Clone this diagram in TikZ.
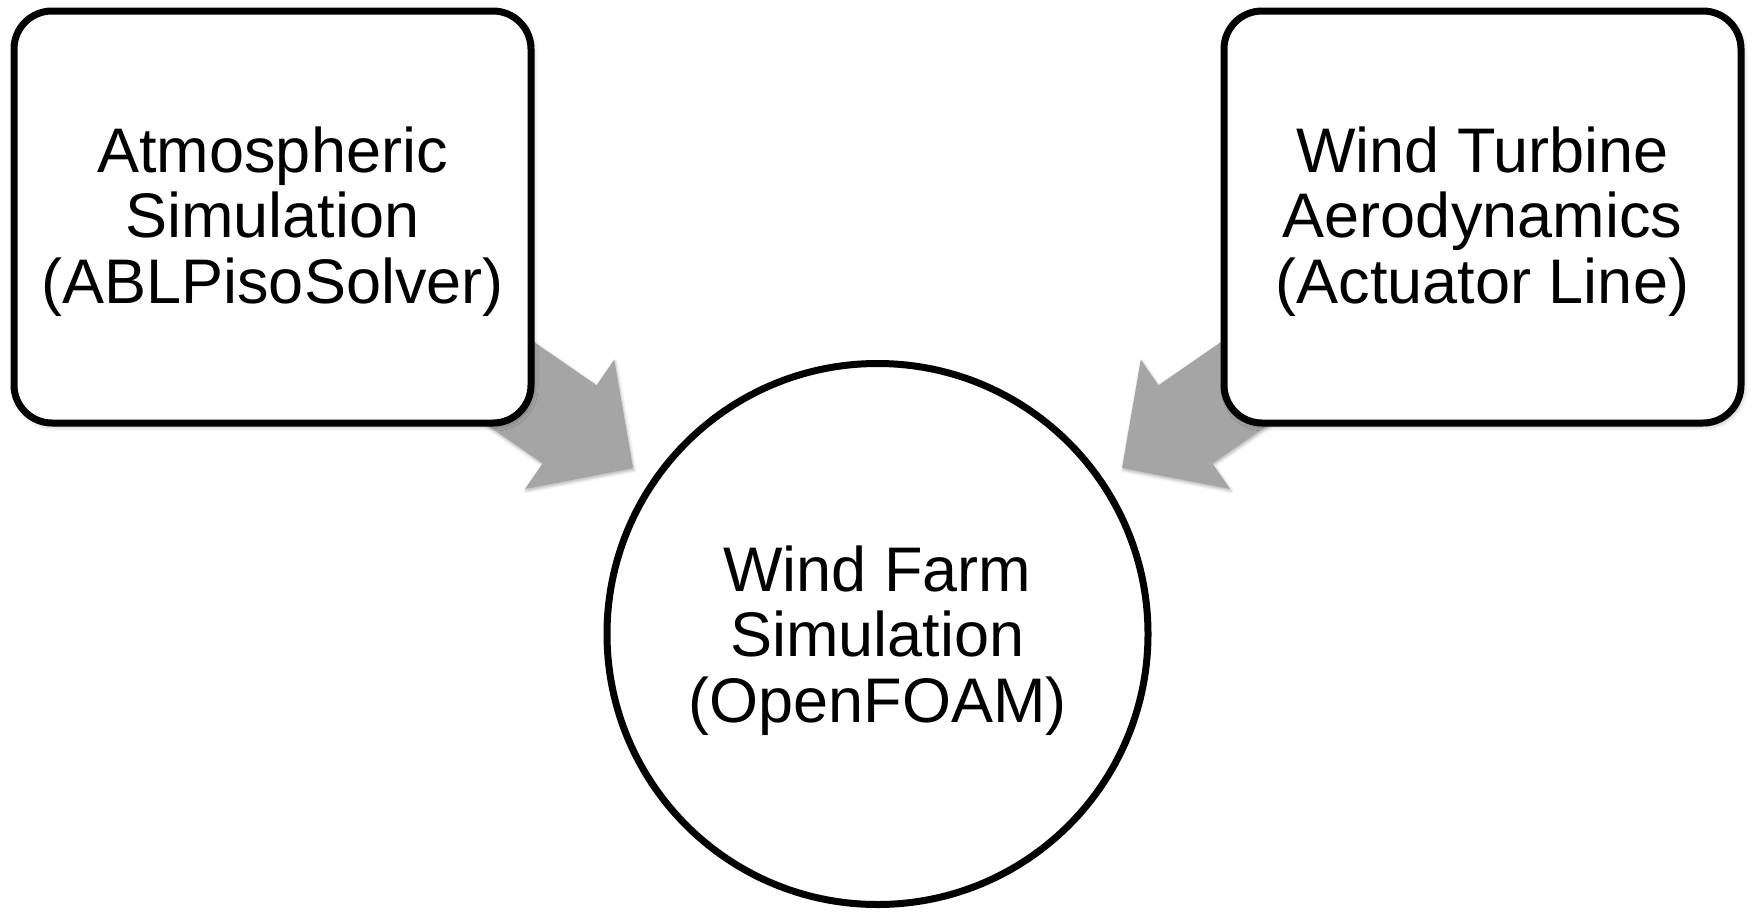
\documentclass[tikz,border=0pt]{standalone}
\usepackage{fontspec}
\setmainfont{Liberation Sans}
\usetikzlibrary{shadows.blur}
\definecolor{arrowgray}{HTML}{A5A5A5}
\tikzset{
  box/.style={draw=black, line width=7pt, fill=white, rounded corners=38pt,
    minimum width=517pt, minimum height=412pt, align=center, inner sep=0pt,
    font=\fontsize{63}{65.5}\selectfont, text depth=4pt,
    blur shadow={shadow xshift=2pt, shadow yshift=-3pt, shadow blur radius=5pt, shadow opacity=35}},
  hub/.style={draw=black, line width=7pt, fill=white, circle, minimum size=541pt,
    align=center, inner sep=0pt, font=\fontsize{63}{65.5}\selectfont, text depth=-4pt},
  blockarrow/.style={fill=arrowgray, draw=none,
    blur shadow={shadow xshift=1pt, shadow yshift=-2pt, shadow blur radius=3pt, shadow opacity=30}}
}
\begin{document}
\begin{tikzpicture}[x=1pt, y=-1pt]
\useasboundingbox (0,0) rectangle (1753,918);
% block arrows (behind boxes)
\fill[blockarrow] (390.8,243.2) -- (596.6,385.2) -- (614.2,359.7) -- (633,468)
  -- (525,488.9) -- (542.6,463.4) -- (336.8,321.4) -- cycle;
\fill[blockarrow] (1364.2,243.2) -- (1158.4,385.2) -- (1140.8,359.7) -- (1122,468)
  -- (1230,488.9) -- (1212.4,463.4) -- (1418.2,321.4) -- cycle;
\node[box] (atm) at (272.5,217) {Atmospheric\\Simulation\\(ABLPisoSolver)};
\node[box] (wt) at (1482.5,217) {Wind Turbine\\Aerodynamics\\(Actuator Line)};
\node[hub] (wf) at (877.5,634) {Wind Farm\\Simulation\\(OpenFOAM)};
\end{tikzpicture}
\end{document}
